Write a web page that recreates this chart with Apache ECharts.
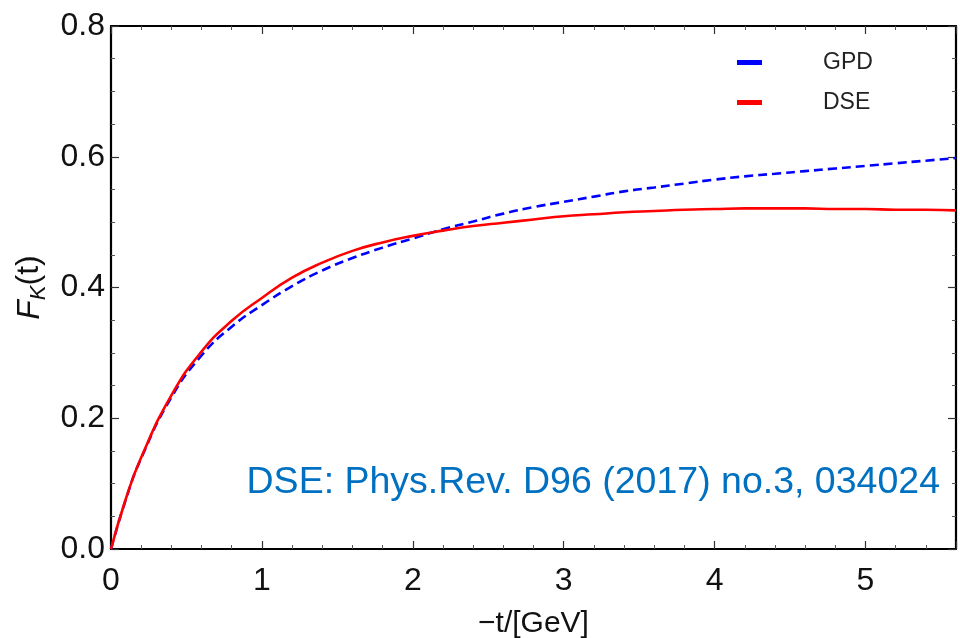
<!DOCTYPE html>
<html>
<head>
<meta charset="utf-8">
<title>Kaon form factor</title>
<script src="https://cdn.jsdelivr.net/npm/echarts@6/dist/echarts.min.js"></script>
<style>
  html, body { margin: 0; padding: 0; background: #fff; }
  #chart { width: 960px; height: 638px; }
</style>
</head>
<body>
<div id="chart"></div>
<script>
// -t in GeV^2, sampled every 0.2 (plus 0.1 near the origin)
const tValues = [0, 0.1, 0.2, 0.4, 0.6, 0.8, 1.0, 1.2, 1.4, 1.6, 1.8, 2.0, 2.2, 2.4, 2.6, 2.8, 3.0,
                 3.2, 3.4, 3.6, 3.8, 4.0, 4.2, 4.4, 4.6, 4.8, 5.0, 5.2, 5.4, 5.6];
// GPD-based kaon form factor
const gpdValues = [0, 0.077, 0.139, 0.232, 0.296, 0.340, 0.373, 0.402, 0.426, 0.445, 0.461, 0.475, 0.489, 0.501, 0.513, 0.523, 0.531,
                   0.539, 0.547, 0.553, 0.559, 0.565, 0.570, 0.574, 0.578, 0.582, 0.586, 0.590, 0.594, 0.598];
// DSE kaon form factor
const dseValues = [0, 0.078, 0.140, 0.235, 0.302, 0.349, 0.384, 0.415, 0.438, 0.456, 0.469, 0.479, 0.487, 0.494, 0.499, 0.504, 0.509,
                   0.512, 0.515, 0.517, 0.519, 0.520, 0.521, 0.521, 0.521, 0.520, 0.520, 0.519, 0.519, 0.518];
// axis ticks
const xTicks = [0, 1, 2, 3, 4, 5];
const yTicks = [0.0, 0.2, 0.4, 0.6, 0.8];

const FONT = 'Liberation Sans, Arial, sans-serif';

const pairs = (xs, ys) => xs.map((x, i) => [x, ys[i]]);

const chart = echarts.init(document.getElementById('chart'), null, { renderer: 'canvas' });

const tickBase = { inside: true, length: 8, lineStyle: { color: '#333', width: 1.2 } };
const minorBase = { show: true, length: 4, lineStyle: { color: '#555', width: 1 } };
const lineBase = { show: true, onZero: false, lineStyle: { color: '#000', width: 2.2 } };

chart.setOption({
  animation: false,
  backgroundColor: '#fff',
  grid: { left: 111, right: 4, top: 26, bottom: 89, containLabel: false, outerBoundsMode: 'none' },
  legend: {
    orient: 'vertical',
    left: 732,
    top: 46,
    itemWidth: 25,
    itemHeight: 5,
    itemGap: 17,
    icon: 'rect',
    textStyle: { fontFamily: FONT, fontSize: 23, color: '#222', padding: [0, 0, 0, 56], lineHeight: 22 },
    data: [
      { name: 'GPD', itemStyle: { color: '#0000ff' } },
      { name: 'DSE', itemStyle: { color: '#ff0000' } }
    ]
  },
  xAxis: [
    {
      type: 'value', position: 'bottom', min: 0, max: 5.6, interval: 1,
      axisLine: lineBase,
      axisTick: tickBase,
      minorTick: Object.assign({ splitNumber: 5 }, minorBase),
      splitLine: { show: false },
      axisLabel: {
        fontFamily: FONT, fontSize: 32, color: '#111', margin: 16,
        showMaxLabel: false,
        formatter: v => xTicks.includes(v) ? String(v) : ''
      },
      name: '\u2212t/[GeV]', nameLocation: 'middle', nameGap: 60,
      nameTextStyle: { fontFamily: FONT, fontSize: 30, color: '#111' }
    },
    {
      type: 'value', position: 'top', min: 0, max: 5.6, interval: 1,
      axisLine: lineBase,
      axisTick: tickBase,
      minorTick: Object.assign({ splitNumber: 5 }, minorBase),
      splitLine: { show: false },
      axisLabel: { show: false }
    }
  ],
  yAxis: [
    {
      type: 'value', position: 'left', min: 0, max: 0.8, interval: 0.2,
      axisLine: lineBase,
      axisTick: tickBase,
      minorTick: Object.assign({ splitNumber: 4 }, minorBase),
      splitLine: { show: false },
      axisLabel: {
        fontFamily: FONT, fontSize: 32, color: '#111', margin: 6,
        formatter: v => yTicks.some(t => Math.abs(t - v) < 1e-9) ? v.toFixed(1) : ''
      },
      name: '{i|F}{s|K}{n|(t)}', nameLocation: 'middle', nameGap: 56, nameRotate: 90,
      nameTextStyle: {
        fontFamily: FONT, color: '#111',
        rich: {
          i: { fontFamily: FONT, fontSize: 32, fontStyle: 'italic', color: '#111', lineHeight: 40, verticalAlign: 'middle' },
          s: { fontFamily: FONT, fontSize: 22, fontStyle: 'italic', color: '#111', lineHeight: 40, verticalAlign: 'bottom', padding: [12, 0, 0, 0] },
          n: { fontFamily: FONT, fontSize: 32, color: '#111', lineHeight: 40, verticalAlign: 'middle' }
        }
      }
    },
    {
      type: 'value', position: 'right', min: 0, max: 0.8, interval: 0.2,
      axisLine: lineBase,
      axisTick: tickBase,
      minorTick: Object.assign({ splitNumber: 4 }, minorBase),
      splitLine: { show: false },
      axisLabel: { show: false }
    }
  ],
  graphic: [
    {
      type: 'text',
      right: 20,
      top: 464,
      style: {
        text: 'DSE: Phys.Rev. D96 (2017) no.3, 034024',
        fontFamily: FONT,
        fontSize: 37.5,
        fill: '#0070c0'
      }
    }
  ],
  series: [
    {
      name: 'GPD', type: 'line', xAxisIndex: 0, yAxisIndex: 0,
      data: pairs(tValues, gpdValues),
      smooth: 0.5, showSymbol: false, symbol: 'none',
      lineStyle: { color: '#0000ff', width: 2.6, type: [9, 5] },
      itemStyle: { color: '#0000ff' },
      z: 2
    },
    {
      name: 'DSE', type: 'line', xAxisIndex: 0, yAxisIndex: 0,
      data: pairs(tValues, dseValues),
      smooth: 0.5, showSymbol: false, symbol: 'none',
      lineStyle: { color: '#ff0000', width: 2.6 },
      itemStyle: { color: '#ff0000' },
      z: 3
    }
  ]
});
</script>
</body>
</html>
